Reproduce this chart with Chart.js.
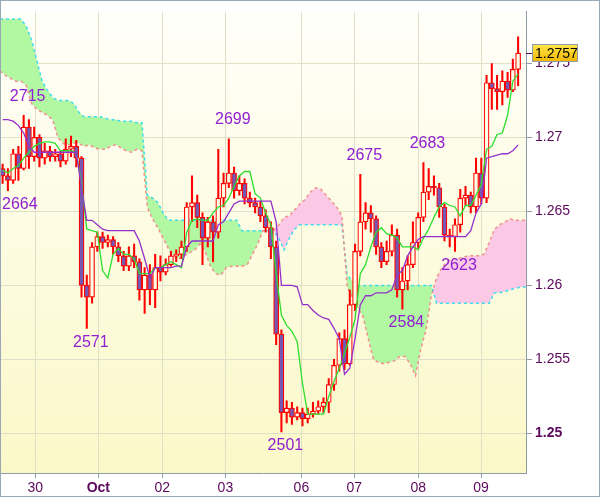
<!DOCTYPE html>
<html>
<head>
<meta charset="utf-8">
<script src="https://cdn.jsdelivr.net/npm/chart.js@4.4.0/dist/chart.umd.min.js"></script>
<style>
  html, body { margin: 0; padding: 0; background: #fff; }
  #wrap { width: 600px; height: 497px; }
</style>
</head>
<body>
<div id="wrap"><canvas id="chart" width="600" height="497"></canvas></div>
<script>
// hourly EURUSD-style candles, sampled every 2 bars (x is in hour units)
const openP = [
  1.2679, 1.2674, 1.2671, 1.2689, 1.2679, 1.2707, 1.2687, 1.2700, 1.2686, 1.2691,
  1.2687, 1.2689, 1.2684, 1.2692, 1.2694, 1.2686, 1.2600, 1.2592, 1.2626, 1.2633,
  1.2629, 1.2631, 1.2626, 1.2620, 1.2613, 1.2620, 1.2616, 1.2597, 1.2607, 1.2597,
  1.2612, 1.2609, 1.2614, 1.2620, 1.2621, 1.2626, 1.2653, 1.2656, 1.2646, 1.2632,
  1.2643, 1.2636, 1.2659, 1.2669, 1.2676, 1.2664, 1.2669, 1.2659, 1.2656, 1.2653,
  1.2647, 1.2639, 1.2626, 1.2567, 1.2514, 1.2517, 1.2511, 1.2514, 1.2510, 1.2513,
  1.2515, 1.2518, 1.2521, 1.2533, 1.2546, 1.2564, 1.2547, 1.2587, 1.2623, 1.2643,
  1.2649, 1.2645, 1.2626, 1.2616, 1.2623, 1.2634, 1.2597, 1.2603, 1.2614, 1.2629,
  1.2646, 1.2663, 1.2667, 1.2666, 1.2653, 1.2634, 1.2633, 1.2641, 1.2659, 1.2661,
  1.2653, 1.2676, 1.2659, 1.2737, 1.2733, 1.2731, 1.2738, 1.2732, 1.2746
];
const highP = [
  1.2682, 1.2679, 1.2692, 1.2694, 1.2715, 1.2712, 1.2707, 1.2702, 1.2696, 1.2694,
  1.2692, 1.2691, 1.2699, 1.2701, 1.2698, 1.2687, 1.2607, 1.2629, 1.2636, 1.2636,
  1.2634, 1.2633, 1.2629, 1.2623, 1.2626, 1.2628, 1.2618, 1.2612, 1.2614, 1.2621,
  1.2620, 1.2618, 1.2623, 1.2624, 1.2630, 1.2656, 1.2674, 1.2661, 1.2649, 1.2646,
  1.2647, 1.2692, 1.2676, 1.2699, 1.2680, 1.2674, 1.2672, 1.2663, 1.2659, 1.2657,
  1.2651, 1.2643, 1.2630, 1.2570, 1.2522, 1.2521, 1.2518, 1.2517, 1.2517, 1.2521,
  1.2522, 1.2524, 1.2537, 1.2550, 1.2568, 1.2570, 1.2597, 1.2628, 1.2675, 1.2656,
  1.2654, 1.2647, 1.2629, 1.2630, 1.2641, 1.2638, 1.2612, 1.2620, 1.2643, 1.2649,
  1.2683, 1.2679, 1.2674, 1.2669, 1.2655, 1.2638, 1.2645, 1.2665, 1.2667, 1.2663,
  1.2686, 1.2686, 1.2742, 1.2750, 1.2742, 1.2745, 1.2744, 1.2753, 1.2768
];
const lowP = [
  1.2669, 1.2664, 1.2669, 1.2671, 1.2678, 1.2679, 1.2684, 1.2680, 1.2682, 1.2684,
  1.2684, 1.2680, 1.2682, 1.2687, 1.2680, 1.2592, 1.2571, 1.2588, 1.2623, 1.2625,
  1.2626, 1.2621, 1.2616, 1.2610, 1.2610, 1.2612, 1.2590, 1.2581, 1.2587, 1.2585,
  1.2603, 1.2607, 1.2613, 1.2616, 1.2618, 1.2623, 1.2643, 1.2639, 1.2614, 1.2626,
  1.2616, 1.2632, 1.2653, 1.2666, 1.2659, 1.2661, 1.2655, 1.2653, 1.2649, 1.2643,
  1.2636, 1.2618, 1.2560, 1.2501, 1.2507, 1.2506, 1.2509, 1.2505, 1.2507, 1.2511,
  1.2513, 1.2514, 1.2514, 1.2529, 1.2542, 1.2543, 1.2546, 1.2583, 1.2620, 1.2638,
  1.2636, 1.2621, 1.2612, 1.2614, 1.2620, 1.2592, 1.2584, 1.2597, 1.2612, 1.2625,
  1.2643, 1.2658, 1.2661, 1.2646, 1.2630, 1.2626, 1.2623, 1.2636, 1.2654, 1.2649,
  1.2649, 1.2655, 1.2656, 1.2719, 1.2719, 1.2722, 1.2727, 1.2731, 1.2735
];
const closeP = [
  1.2674, 1.2671, 1.2689, 1.2679, 1.2707, 1.2687, 1.2700, 1.2686, 1.2691, 1.2687,
  1.2689, 1.2684, 1.2692, 1.2694, 1.2686, 1.2600, 1.2592, 1.2626, 1.2633, 1.2629,
  1.2631, 1.2626, 1.2620, 1.2613, 1.2620, 1.2616, 1.2597, 1.2607, 1.2597, 1.2612,
  1.2609, 1.2614, 1.2620, 1.2621, 1.2626, 1.2653, 1.2656, 1.2646, 1.2632, 1.2643,
  1.2636, 1.2659, 1.2669, 1.2676, 1.2664, 1.2669, 1.2659, 1.2656, 1.2653, 1.2647,
  1.2639, 1.2626, 1.2567, 1.2514, 1.2517, 1.2511, 1.2514, 1.2510, 1.2513, 1.2515,
  1.2518, 1.2521, 1.2533, 1.2546, 1.2564, 1.2547, 1.2587, 1.2623, 1.2643, 1.2649,
  1.2645, 1.2626, 1.2616, 1.2623, 1.2634, 1.2597, 1.2603, 1.2614, 1.2629, 1.2646,
  1.2663, 1.2667, 1.2666, 1.2653, 1.2634, 1.2633, 1.2641, 1.2659, 1.2661, 1.2653,
  1.2676, 1.2659, 1.2737, 1.2733, 1.2731, 1.2738, 1.2732, 1.2746, 1.2757
];

// ichimoku lines, one value per candle
const tenkan = [
  1.2678, 1.2676, 1.2679, 1.2681, 1.2686, 1.2690, 1.2694, 1.2696, 1.2697, 1.2697,
  1.2696, 1.2691, 1.2691, 1.2691, 1.2690, 1.2669, 1.2638, 1.2637, 1.2636, 1.2610,
  1.2605, 1.2621, 1.2625, 1.2621, 1.2621, 1.2618, 1.2608, 1.2608, 1.2608, 1.2612,
  1.2612, 1.2614, 1.2616, 1.2614, 1.2612, 1.2636, 1.2644, 1.2645, 1.2644, 1.2644,
  1.2649, 1.2653, 1.2654, 1.2659, 1.2667, 1.2674, 1.2677, 1.2677, 1.2662, 1.2659,
  1.2649, 1.2641, 1.2608, 1.2580, 1.2573, 1.2569, 1.2562, 1.2534, 1.2513, 1.2513,
  1.2513, 1.2513, 1.2525, 1.2535, 1.2544, 1.2554, 1.2565, 1.2577, 1.2608, 1.2614,
  1.2626, 1.2636, 1.2639, 1.2635, 1.2634, 1.2632, 1.2626, 1.2626, 1.2626, 1.2624,
  1.2632, 1.2638, 1.2646, 1.2653, 1.2656, 1.2654, 1.2653, 1.2647, 1.2654, 1.2654,
  1.2661, 1.2668, 1.2692, 1.2694, 1.2702, 1.2703, 1.2715, 1.2738, 1.2743
];
const kijun = [
  1.2712, 1.2712, 1.2711, 1.2708, 1.2703, 1.2694, 1.2690, 1.2690, 1.2690, 1.2690,
  1.2690, 1.2690, 1.2690, 1.2690, 1.2690, 1.2666, 1.2644, 1.2644, 1.2641, 1.2638,
  1.2637, 1.2637, 1.2637, 1.2637, 1.2637, 1.2637, 1.2630, 1.2618, 1.2605, 1.2612,
  1.2612, 1.2612, 1.2612, 1.2613, 1.2613, 1.2626, 1.2630, 1.2630, 1.2630, 1.2630,
  1.2630, 1.2641, 1.2643, 1.2649, 1.2655, 1.2657, 1.2657, 1.2657, 1.2657, 1.2657,
  1.2657, 1.2657, 1.2643, 1.2600, 1.2600, 1.2600, 1.2599, 1.2587, 1.2587, 1.2583,
  1.2580, 1.2578, 1.2577, 1.2571, 1.2564, 1.2540, 1.2544, 1.2564, 1.2587, 1.2593,
  1.2593, 1.2595, 1.2595, 1.2595, 1.2597, 1.2607, 1.2610, 1.2620, 1.2626, 1.2631,
  1.2633, 1.2633, 1.2633, 1.2633, 1.2633, 1.2633, 1.2633, 1.2633, 1.2633, 1.2637,
  1.2649, 1.2655, 1.2686, 1.2687, 1.2688, 1.2689, 1.2689, 1.2691, 1.2695
];

// cloud edges, one value every 2 hours across the whole plot
const spanA = [
  1.2780, 1.2780, 1.2780, 1.2780, 1.2780, 1.2775, 1.2766, 1.2752, 1.2738, 1.2732,
  1.2727, 1.2725, 1.2725, 1.2725, 1.2723, 1.2717, 1.2714, 1.2714, 1.2714, 1.2714,
  1.2713, 1.2712, 1.2712, 1.2711, 1.2711, 1.2711, 1.2710, 1.2710, 1.2661, 1.2659,
  1.2656, 1.2649, 1.2644, 1.2644, 1.2644, 1.2644, 1.2644, 1.2644, 1.2644, 1.2644,
  1.2644, 1.2644, 1.2644, 1.2644, 1.2644, 1.2644, 1.2637, 1.2637, 1.2637, 1.2637,
  1.2637, 1.2637, 1.2637, 1.2632, 1.2624, 1.2632, 1.2638, 1.2641, 1.2641, 1.2641,
  1.2641, 1.2641, 1.2641, 1.2641, 1.2641, 1.2641, 1.2607, 1.2603, 1.2600, 1.2600,
  1.2600, 1.2600, 1.2600, 1.2600, 1.2600, 1.2600, 1.2600, 1.2600, 1.2600, 1.2600,
  1.2600, 1.2600, 1.2600, 1.2588, 1.2588, 1.2588, 1.2588, 1.2588, 1.2588, 1.2588,
  1.2588, 1.2588, 1.2588, 1.2588, 1.2595, 1.2595, 1.2596, 1.2597, 1.2598, 1.2599,
  1.2599
];
const spanB = [
  1.2745, 1.2742, 1.2740, 1.2738, 1.2738, 1.2735, 1.2723, 1.2719, 1.2717, 1.2715,
  1.2712, 1.2700, 1.2696, 1.2695, 1.2696, 1.2696, 1.2694, 1.2695, 1.2693, 1.2692,
  1.2692, 1.2694, 1.2695, 1.2693, 1.2691, 1.2690, 1.2692, 1.2691, 1.2653, 1.2645,
  1.2639, 1.2632, 1.2625, 1.2620, 1.2618, 1.2620, 1.2622, 1.2624, 1.2628, 1.2623,
  1.2613, 1.2608, 1.2607, 1.2612, 1.2613, 1.2613, 1.2613, 1.2614, 1.2621, 1.2628,
  1.2637, 1.2637, 1.2637, 1.2641, 1.2646, 1.2647, 1.2651, 1.2655, 1.2658, 1.2663,
  1.2666, 1.2665, 1.2661, 1.2657, 1.2653, 1.2647, 1.2599, 1.2592, 1.2585, 1.2579,
  1.2564, 1.2550, 1.2548, 1.2547, 1.2548, 1.2549, 1.2552, 1.2552, 1.2547, 1.2539,
  1.2557, 1.2570, 1.2593, 1.2605, 1.2612, 1.2616, 1.2618, 1.2618, 1.2619, 1.2620,
  1.2620, 1.2620, 1.2621, 1.2629, 1.2638, 1.2641, 1.2643, 1.2645, 1.2644, 1.2644,
  1.2644
];

// marked highs / lows (candle index)
const extremes = [
  { k: 4, kind: "high" }, { k: 1, kind: "low" }, { k: 16, kind: "low" },
  { k: 43, kind: "high" }, { k: 53, kind: "low" }, { k: 68, kind: "high" },
  { k: 76, kind: "low" }, { k: 80, kind: "high" }, { k: 86, kind: "low" }
];

const xTickPos = [13.4, 37.4, 61.7, 85.7, 114.6, 134.7, 159.0, 182.9];
const xTickLabels = ["30", "Oct", "02", "03", "06", "07", "08", "09"];
const yTicks = [1.25, 1.255, 1.26, 1.265, 1.27, 1.275];

const FONT = '"Liberation Sans", Arial, sans-serif';
const AXIS_GRAY = "#8c9ca8";
const TEXT_PURPLE = "#5c085c";
const BODY_BG = "#fffde6";

const candleX = (k) => 1 + 2 * k;

const bgPlugin = {
  id: "bg",
  beforeDraw(chart) {
    const { ctx, chartArea: a } = chart;
    ctx.save();
    ctx.fillStyle = "#ffffff";
    ctx.fillRect(0, 0, chart.width, chart.height);
    const g = ctx.createLinearGradient(0, a.top, 0, a.bottom);
    g.addColorStop(0, "#fffffa");
    g.addColorStop(1, "#fbf8c8");
    ctx.fillStyle = g;
    ctx.fillRect(a.left, a.top, a.right - a.left, a.bottom - a.top);
    ctx.restore();
  },
};

const labelPlugin = {
  id: "extremeLabels",
  afterDatasetsDraw(chart) {
    const { ctx, chartArea: a } = chart;
    const x = chart.scales.x;
    const y = chart.scales.y;
    ctx.save();
    ctx.font = `16px ${FONT}`;
    ctx.fillStyle = "#9020d0";
    ctx.textBaseline = "middle";
    extremes.forEach((e) => {
      const v = e.kind === "high" ? highP[e.k] : lowP[e.k];
      const text = String(Math.round(v * 10000) % 10000).padStart(4, "0");
      const w = ctx.measureText(text).width;
      let left = x.getPixelForValue(candleX(e.k)) + 4 - w / 2;
      left = Math.max(a.left + 2, left);
      const py = y.getPixelForValue(v) + (e.kind === "high" ? -19 : 14);
      ctx.fillText(text, left, py);
    });
    ctx.restore();
  },
};

const pricePlugin = {
  id: "lastPrice",
  afterDraw(chart) {
    const { ctx, chartArea: a } = chart;
    const last = closeP[closeP.length - 1];
    const py = Math.round(chart.scales.y.getPixelForValue(last));
    ctx.save();
    ctx.strokeStyle = TEXT_PURPLE;
    ctx.beginPath();
    ctx.moveTo(a.right, py + 0.5);
    ctx.lineTo(a.right + 6, py + 0.5);
    ctx.stroke();
    const g = ctx.createLinearGradient(0, py - 9, 0, py + 9);
    g.addColorStop(0, "#ffe94a");
    g.addColorStop(1, "#f2b400");
    ctx.fillStyle = g;
    ctx.fillRect(a.right + 6, py - 9, 46, 18);
    ctx.strokeStyle = AXIS_GRAY;
    ctx.strokeRect(a.right + 6.5, py - 8.5, 45, 17);
    ctx.fillStyle = "#000";
    ctx.font = `14px ${FONT}`;
    ctx.textBaseline = "middle";
    ctx.fillText(last.toFixed(4), a.right + 9, py + 1);
    // outer frame
    ctx.strokeStyle = "#9aa8b4";
    ctx.strokeRect(0.5, 0.5, chart.width - 1, chart.height - 1);
    ctx.restore();
  },
};

const lineSet = (label, values, xs, color, extra) => Object.assign({
  type: "line",
  label,
  data: values.map((v, i) => ({ x: xs(i), y: v })),
  borderColor: color,
  borderWidth: 1.3,
  pointRadius: 0,
  tension: 0,
  fill: false,
}, extra || {});

new Chart(document.getElementById("chart"), {
  type: "bar",
  data: {
    datasets: [
      lineSet("Senkou A", spanA, (j) => 2 * j, "#3fdcec", {
        borderDash: [3, 3], borderWidth: 1.5, order: 10,
        fill: { target: 1, above: "#b2f7a2", below: "#fbc9e6" },
      }),
      lineSet("Senkou B", spanB, (j) => 2 * j, "#f0908a", {
        borderDash: [3, 3], borderWidth: 1.5, order: 9,
      }),
      {
        type: "bar",
        label: "wick",
        data: highP.map((h, k) => ({ x: candleX(k), y: [lowP[k], h] })),
        backgroundColor: "#ff0000",
        borderWidth: 0,
        barThickness: 1.4,
        grouped: false,
        order: 6,
      },
      {
        type: "bar",
        label: "body",
        data: openP.map((o, k) => ({ x: candleX(k), y: [Math.min(o, closeP[k]), Math.max(o, closeP[k])] })),
        backgroundColor: (c) => (closeP[c.dataIndex] < openP[c.dataIndex] ? "#7658b2" : BODY_BG),
        borderColor: "#ff0000",
        borderWidth: 1.2,
        borderSkipped: false,
        barThickness: 5,
        minBarLength: 1,
        grouped: false,
        order: 5,
      },
      lineSet("Tenkan", tenkan, candleX, "#2ede2e", { order: 2 }),
      lineSet("Kijun", kijun, candleX, "#9430cc", { order: 1 }),
    ],
  },
  options: {
    responsive: false,
    animation: false,
    layout: { padding: 0 },
    plugins: { legend: { display: false }, tooltip: { enabled: false } },
    scales: {
      x: {
        type: "linear",
        min: 0,
        max: 200,
        offset: false,
        afterBuildTicks: (s) => { s.ticks = xTickPos.map((v) => ({ value: v })); },
        afterFit: (s) => { s.height = 24; },
        grid: { offset: false, color: "#e0e0c8", tickColor: AXIS_GRAY, tickLength: 5 },
        border: { color: AXIS_GRAY },
        ticks: {
          autoSkip: false,
          maxRotation: 0,
          padding: 2,
          color: TEXT_PURPLE,
          font: (c) => ({ family: FONT, size: 14, weight: xTickLabels[c.index] === "Oct" ? "bold" : "normal" }),
          callback: (v, i) => xTickLabels[i],
        },
      },
      y: {
        type: "linear",
        position: "right",
        min: 1.24732,
        max: 1.27852,
        afterBuildTicks: (s) => { s.ticks = yTicks.map((v) => ({ value: v })); },
        afterFit: (s) => { s.width = 74; },
        grid: { color: "#e0e0c8", tickColor: AXIS_GRAY, tickLength: 6 },
        border: { color: AXIS_GRAY },
        ticks: {
          padding: 3,
          color: TEXT_PURPLE,
          font: (c) => ({ family: FONT, size: 14, weight: c.index === 0 ? "bold" : "normal" }),
          callback: (v) => String(+Number(v).toFixed(3)),
        },
      },
    },
  },
  plugins: [bgPlugin, labelPlugin, pricePlugin],
});
</script>
</body>
</html>
